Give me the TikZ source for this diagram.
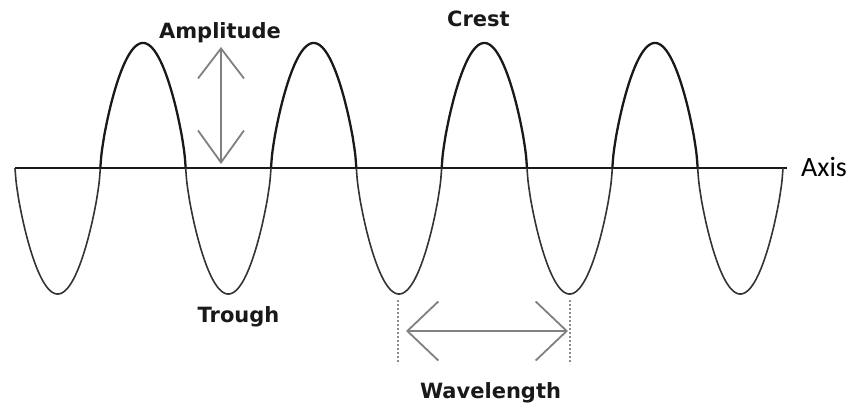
\documentclass[tikz,border=0pt]{standalone}
\usepackage{fontspec}
\setmainfont{DejaVu Sans}
\newfontfamily\axisfont{Carlito}
\usetikzlibrary{arrows.meta}
\tikzset{
  crestline/.style={line width=2.3pt, black!90},
  troughline/.style={line width=1.6pt, black!80},
  axisline/.style={line width=2.4pt, black!90},
  graylabel/.style={font=\bfseries\fontsize{21}{25}\selectfont, text=black!90, inner sep=0pt},
  axislabel/.style={font=\axisfont\fontsize{28}{32}\selectfont, inner sep=0pt},
  measarrow/.style={draw=black!50, line width=1.2pt},
  guide/.style={draw=black!45, line width=2.6pt, dash pattern=on 2pt off 2pt}
}
\begin{document}
\begin{tikzpicture}[x=1pt,y=-1pt]
\useasboundingbox (0,0) rectangle (854,406);
\fill[white] (0,0) rectangle (854,406);
% axis
\coordinate (axL) at (15,168);
\coordinate (axR) at (787,168);
\draw[axisline] (axL) -- (axR);
% wave: half waves
\def\hw{85.333}
\foreach \k in {0,...,8}{
  \pgfmathsetmacro{\xo}{15+\k*\hw}
  \pgfmathtruncatemacro{\odd}{mod(\k,2)}
  \ifnum\odd=1
    \draw[crestline] plot[domain=0:180, samples=90, smooth] ({\xo+\x/180*\hw}, {168-125*pow(abs(sin(\x))+0.00001,0.7)});
  \else
    \draw[troughline] plot[domain=0:180, samples=90, smooth] ({\xo+\x/180*\hw}, {168+126*pow(abs(sin(\x))+0.00001,0.7)});
  \fi
}
% amplitude arrow
\coordinate (ampT) at (221,47);
\coordinate (ampB) at (221,164);
\draw[measarrow, {Straight Barb[length=30pt,width=46pt,line width=1.8pt]}-{Straight Barb[length=32pt,width=46pt,line width=1.8pt]}] (ampT) -- (ampB);
% wavelength guides
\coordinate (g1t) at (398,300);
\coordinate (g1b) at (398,364);
\coordinate (g2t) at (570,300);
\coordinate (g2b) at (570,364);
\draw[guide] (g1t) -- (g1b);
\draw[guide] (g2t) -- (g2b);
\coordinate (wlL) at (406,331);
\coordinate (wlR) at (568,331);
\draw[measarrow, {Straight Barb[length=31pt,width=59pt,line width=1.8pt]}-{Straight Barb[length=31pt,width=59pt,line width=1.8pt]}] (wlL) -- (wlR);
% labels
\node[graylabel, anchor=base] (amp) at (220,39) {Amplitude};
\node[graylabel, anchor=base] (crest) at (478.5,27) {Crest};
\node[graylabel, anchor=base] (trough) at (238.5,322) {Trough};
\node[graylabel, anchor=base] (wave) at (490.5,398) {Wavelength};
\node[axislabel, anchor=base west] (axis) at (801,177) {Axis};
\end{tikzpicture}
\end{document}
